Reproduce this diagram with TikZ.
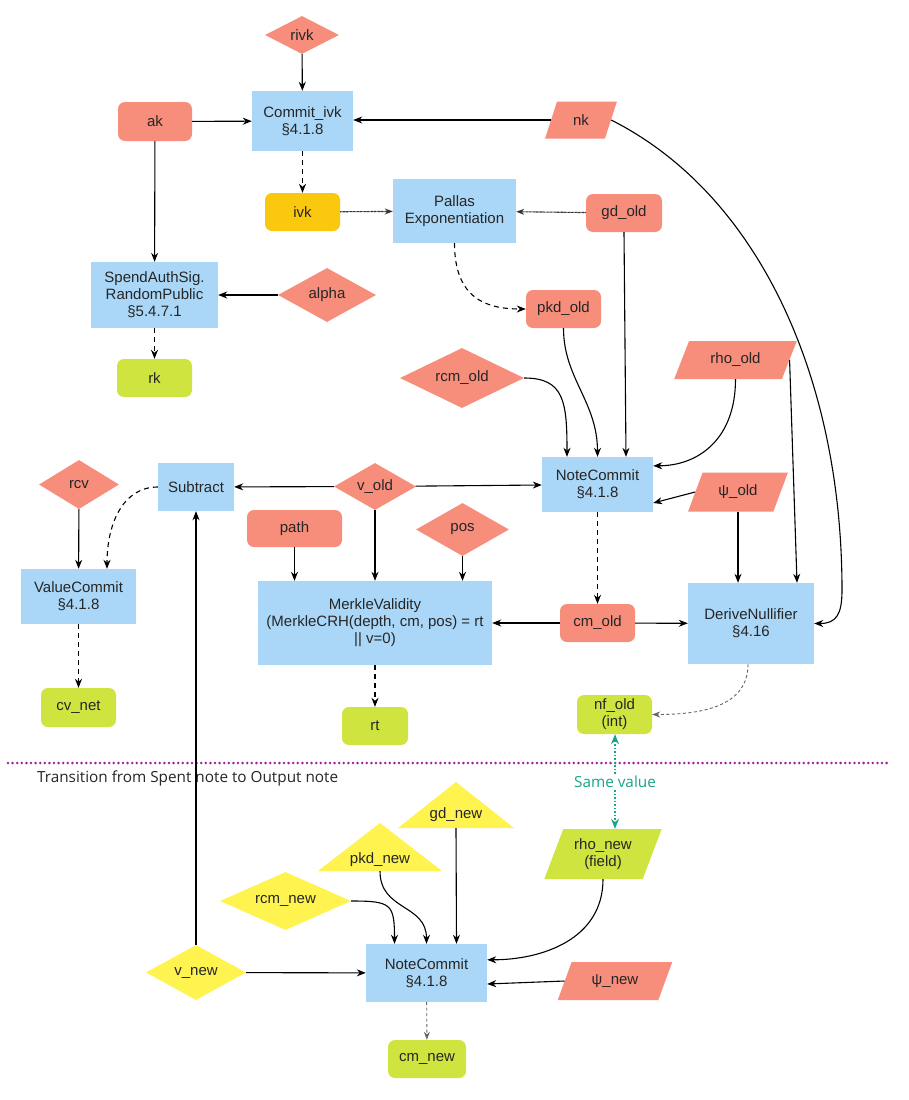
\documentclass[tikz,border=0pt]{standalone}
\usepackage{fontspec}
\setmainfont{Liberation Sans}
\newfontfamily\osans{Open Sans}
\usetikzlibrary{shapes.geometric,arrows.meta,calc}
\definecolor{salmon}{HTML}{F78D7B}
\definecolor{pblue}{HTML}{AAD7F8}
\definecolor{lime}{HTML}{D0E43F}
\definecolor{ylw}{HTML}{FFF34F}
\definecolor{amber}{HTML}{F9C80F}
\definecolor{tealc}{HTML}{18A58A}
\definecolor{purp}{HTML}{A0229E}
\definecolor{txt}{HTML}{262626}
\begin{document}
\begin{tikzpicture}[x=1pt,y=-1pt,
  font=\fontsize{15}{17}\selectfont, text=txt,
  every node/.style={align=center, inner sep=0pt},
  proc/.style={rectangle, fill=pblue},
  rbox/.style={rectangle, rounded corners=7pt, fill=salmon},
  gbox/.style={rectangle, rounded corners=7pt, fill=lime},
  dia/.style={diamond, fill=salmon, shape aspect=2},
  para/.style={trapezium, trapezium left angle=60, trapezium right angle=120, trapezium stretches=true, fill=salmon},
  parb/.style={trapezium, trapezium left angle=70, trapezium right angle=110, trapezium stretches=true, fill=salmon},
  wh/.style 2 args={minimum width=#1pt, minimum height=#2pt},
  arr/.style={-{Stealth[length=9pt,width=7pt]}, line width=1.1pt, draw=black},
  darr/.style={arr, dash pattern=on 5pt off 4pt},
  farr/.style={-{Stealth[length=8pt,width=6pt]}, line width=1.1pt, draw=black!80, dash pattern=on 1pt off 0.4pt},
  garr/.style={-{Stealth[length=8pt,width=6pt]}, line width=0.9pt, draw=black!60, dash pattern=on 3pt off 2.5pt},
  tarr/.style={-{Stealth[length=10pt,width=8pt]}, line width=1.4pt, draw=tealc, dash pattern=on 1.5pt off 2pt},
]
\fill[white] (0,0) rectangle (908,1100);
\useasboundingbox (0,0) rectangle (908,1100);

% ---------- top part ----------
\node[dia, wh={74}{38}] (rivk) at (302,35) {rivk};
\node[proc, wh={101}{60}] (cik) at (302.5,121) {Commit\_ivk\\§4.1.8};
\node[rbox, wh={74}{39}] (ak) at (155,121.5) {ak};
\node[parb, wh={72}{37}] (nk) at (581,120) {nk};
\node[rectangle, rounded corners=7pt, fill=amber, wh={75}{38}] (ivk) at (302.5,212) {ivk};
\node[proc, wh={123}{64}] (pal) at (454.5,211) {Pallas\\Exponentiation};
\node[rbox, wh={76}{38}] (gdo) at (624,213) {gd\_old};
\node[proc, wh={127}{66}] (sas) at (154.5,295) {SpendAuthSig.\\RandomPublic\\§5.4.7.1};
\node[dia, wh={98}{54}] (alpha) at (327,295) {alpha};
\node[gbox, wh={75}{38}] (rk) at (154.5,378) {rk};
\node[rbox, wh={75}{38}] (pkdo) at (563.5,309) {pkd\_old};
\node[dia, wh={124}{60}] (rcmo) at (462,378) {rcm\_old};
\node[para, wh={123}{38}] (rhoo) at (735.5,360) {rho\_old};
\node[proc, wh={111}{55}] (nco) at (597.5,484.5) {NoteCommit\\§4.1.8};
\node[para, wh={100}{39}] (psio) at (738,492) {ψ\_old};
\node[dia, wh={80}{49}] (rcv) at (79,484.5) {rcv};
\node[proc, wh={76}{48}] (sub) at (196,487) {Subtract};
\node[dia, wh={82}{47}] (vold) at (375,486.5) {v\_old};
\node[rbox, wh={95}{37}] (path) at (294.5,528.5) {path};
\node[dia, wh={93}{53}] (pos) at (462.5,529.5) {pos};
\node[proc, wh={115}{55}] (vc) at (78.5,596.5) {ValueCommit\\§4.1.8};
\node[proc, wh={234}{84}] (mv) at (375,623) {MerkleValidity\\(MerkleCRH(depth, cm, pos) = rt\\|| v=0)};
\node[rbox, wh={75}{38}] (cmo) at (597.5,623) {cm\_old};
\node[proc, wh={126}{81}] (dn) at (751,623.5) {DeriveNullifier\\§4.16};
\node[gbox, wh={75}{39}] (cvn) at (78.5,707.5) {cv\_net};
\node[gbox, wh={66}{38}] (rt) at (375,726) {rt};
\node[gbox, wh={75}{39}] (nfo) at (614.5,714.5) {nf\_old\\(int)};

% ---------- separator ----------
\coordinate (sepL) at (8,763);
\coordinate (sepR) at (888,763);
\draw[purp, line width=2.8pt, line cap=round, dash pattern=on 0pt off 4.6pt] (sepL) -- (sepR);
\node[anchor=west, font=\osans\fontsize{15.3}{17}\selectfont, text=black!85] (trans) at (37,778) {Transition from Spent note to Output note};
\node[font=\osans\fontsize{15.3}{17}\selectfont, text=tealc, inner sep=2pt] (sv) at (615,782) {Same value};

% ---------- bottom part ----------
\fill[ylw] (398,828) -- (456,782) -- (514,828) -- cycle;
\node (gdn) at (456,815) {gd\_new};
\coordinate (gdnb) at (456,828);
\fill[ylw] (318,871) -- (380,823) -- (442,871) -- cycle;
\node (pkdn) at (380,860) {pkd\_new};
\coordinate (pkdnb) at (380,871);
\node[para, fill=lime, wh={118}{50}, trapezium left angle=66, trapezium right angle=114] (rhon) at (603,854) {rho\_new\\(field)};
\node[dia, fill=ylw, wh={131}{58}] (rcmn) at (285.5,901) {rcm\_new};
\node[dia, fill=ylw, wh={100}{55}] (vnew) at (196,972.5) {v\_new};
\node[proc, wh={121}{58}] (ncn) at (426.5,973) {NoteCommit\\§4.1.8};
\node[para, wh={115}{38}] (psin) at (615,981) {ψ\_new};
\node[gbox, wh={78}{38}] (cmn) at (427,1059) {cm\_new};

% ---------- connectors (top) ----------
\draw[arr] (rivk) -- (cik);
\draw[arr] (ak) -- (cik);
\draw[arr] (nk.west) -- (nk.west -| cik.east);
\draw[darr] (cik) -- (ivk);
\draw[farr] (ivk) -- (pal);
\draw[farr] (gdo) -- (pal);
\draw[darr] (pal.south) .. controls +(0,55) and +(-40,0) .. (pkdo.west);
\draw[arr] (ak) -- (sas);
\draw[arr] (alpha) -- (sas);
\draw[darr] (sas) -- (rk);
\draw[arr] (nk.east) .. controls (760,195) and (842,380) .. (842,590) .. controls (842,615) and (836,623.5) .. (dn.east);
\draw[arr] (gdo.south) -- ([xshift=28.5pt]nco.north);
\draw[arr] (pkdo.south) .. controls +(0,50) and +(0,-55) .. (nco.north);
\draw[arr] (rcmo.east) .. controls +(40,0) and +(0,-55) .. ([xshift=-30.5pt]nco.north);
\draw[arr] (rhoo.south) .. controls +(0,60) and +(45,0) .. ([yshift=-9pt]nco.north east);
\draw[arr] (psio.west) -- ([yshift=-18.5pt]nco.east);
\draw[arr] (vold) -- (nco);
\draw[arr] (vold) -- (sub);
\draw[arr] (vold) -- (mv);
\draw[arr] (path.south) -- (path.south |- mv.north);
\draw[arr] (pos.south) -- (pos.south |- mv.north);
\draw[arr] (cmo) -- (mv);
\draw[arr] (cmo) -- (dn);
\draw[darr] (nco) -- (cmo);
\draw[arr] (psio.south) -- (psio.south |- dn.north);
\draw[arr] (rhoo.east) -- ([xshift=46pt]dn.north);
\draw[garr] ([xshift=-3pt]dn.south) .. controls +(0,40) and +(55,0) .. (nfo.east);
\draw[arr] (rcv) -- (vc);
\draw[darr] (sub.west) .. controls +(-35,0) and +(0,-45) .. ([xshift=28.5pt]vc.north);
\draw[arr] (vnew) -- (sub);
\draw[darr] (mv) -- (rt);
\draw[darr] (vc) -- (cvn);

% ---------- connectors (bottom) ----------
\draw[tarr] (sv.north) -- (sv.north |- nfo.south);
\draw[tarr] (sv.south) -- (sv.south |- rhon.north);
\draw[arr] (gdnb) -- ([xshift=30pt]ncn.north);
\draw[arr] (pkdnb) .. controls +(0,40) and +(0,-40) .. (ncn.north);
\draw[arr] (rcmn.east) .. controls +(40,0) and +(0,-40) .. ([xshift=-32pt]ncn.north);
\draw[arr] (rhon.south) .. controls +(0,60) and +(55,0) .. ([yshift=-16pt]ncn.north east);
\draw[arr] (psin.west) -- ([yshift=-11pt]ncn.east);
\draw[arr] (vnew) -- (ncn);
\draw[garr] (ncn) -- (cmn);
\end{tikzpicture}
\end{document}
